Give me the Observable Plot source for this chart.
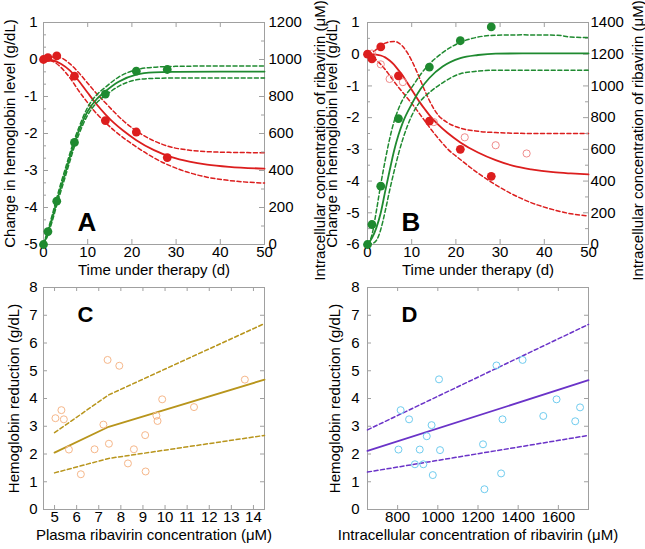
<!DOCTYPE html>
<html><head><meta charset="utf-8">
<script src="https://cdn.jsdelivr.net/npm/d3@7"></script>
<script src="https://cdn.jsdelivr.net/npm/@observablehq/plot@0.6"></script>
<style>
body{margin:0;background:#fff;}
#chart{position:relative;width:645px;height:549px;overflow:hidden;background:#fff;}
#chart .panel{position:absolute;}
#chart svg{position:absolute;left:0;top:0;overflow:visible;max-width:none !important;}
</style></head><body><div id="chart"></div><script>
// ---------- Panel A ----------
const obsTimeA = [0, 1, 3, 7, 14, 21, 28];
const hbObsA = [0, 0.05, 0.1, -0.45, -1.65, -1.96, -2.65];
const concObsA = [0, 70, 234, 552, 813, 937, 946];
const fitTimeA = [0, 2, 4, 6, 8, 10, 12, 14, 16, 18, 21, 25, 29, 33, 37, 42, 50];
const hbFitA = [0, -0.02, -0.12, -0.30, -0.58, -0.90, -1.21, -1.48, -1.72, -1.92, -2.18, -2.45, -2.64, -2.76, -2.84, -2.90, -2.95];
const hbHiA = [0.03, 0.07, 0.04, -0.12, -0.36, -0.64, -0.92, -1.17, -1.42, -1.65, -1.93, -2.20, -2.37, -2.45, -2.49, -2.51, -2.52];
const hbLoA = [-0.02, -0.05, -0.22, -0.50, -0.85, -1.17, -1.46, -1.70, -1.92, -2.11, -2.36, -2.66, -2.89, -3.06, -3.18, -3.27, -3.34];
const concTimeA = [0, 1, 2, 3, 4, 5, 6, 7, 8, 10, 12, 14, 17, 21, 25, 30, 40, 50];
const concFitA = [0, 65, 145, 232, 315, 393, 475, 550, 615, 720, 785, 828, 880, 918, 930, 933, 935, 935];
const concHiA = [3, 78, 162, 252, 337, 415, 495, 568, 632, 742, 808, 850, 905, 945, 958, 963, 965, 965];
const concLoA = [0, 52, 128, 212, 293, 372, 452, 530, 595, 700, 765, 805, 855, 890, 898, 900, 900, 900];

// ---------- Panel B ----------
const obsTimeB = [0, 1, 3, 7, 14, 21, 28];
const hbObsB = [0, -0.15, 0.23, -0.68, -2.11, -3.0, -3.85];
const openTimeB = [1, 3, 5, 8, 15, 22, 29, 36];
const hbOpenB = [0.02, -0.32, -0.78, -0.88, -2.14, -2.62, -2.87, -3.13];
const concObsB = [0, 126, 368, 794, 1119, 1285, 1372];
const fitTimeB = [0, 1, 2, 3, 4, 5, 6, 7, 8, 9, 10, 11, 12, 13, 14, 15, 16, 18, 21, 25, 29, 33, 37, 42, 46, 50];
const hbFitB = [0, 0, -0.01, -0.04, -0.10, -0.20, -0.33, -0.50, -0.68, -0.90, -1.12, -1.34, -1.55, -1.74, -1.92, -2.08, -2.22, -2.47, -2.78, -3.10, -3.34, -3.52, -3.63, -3.72, -3.76, -3.79];
const hbHiB = [0, 0.05, 0.15, 0.27, 0.35, 0.39, 0.40, 0.36, 0.24, 0.05, -0.20, -0.50, -0.83, -1.16, -1.46, -1.72, -1.92, -2.15, -2.33, -2.43, -2.47, -2.49, -2.50, -2.50, -2.50, -2.50];
const hbLoB = [0, -0.05, -0.18, -0.32, -0.48, -0.67, -0.86, -1.04, -1.21, -1.38, -1.55, -1.73, -1.92, -2.11, -2.30, -2.48, -2.65, -2.97, -3.32, -3.75, -4.12, -4.43, -4.68, -4.90, -5.03, -5.10];
const concTimeB = [0, 1, 2, 3, 4, 5, 6, 7, 8, 10, 12, 14, 17, 21, 25, 29, 35, 43, 46, 50];
const concFitB = [0, 40, 105, 200, 335, 465, 590, 690, 770, 885, 980, 1050, 1122, 1175, 1195, 1204, 1205, 1205, 1205, 1205];
const concHiB = [0, 60, 210, 380, 530, 665, 775, 855, 915, 990, 1072, 1138, 1210, 1275, 1308, 1320, 1322, 1320, 1308, 1305];
const concLoB = [0, 5, 25, 95, 210, 340, 460, 570, 665, 812, 905, 958, 1020, 1077, 1093, 1099, 1099, 1099, 1099, 1099];

// ---------- Panel C ----------
const plasmaC = [5.04, 5.31, 5.42, 5.65, 6.19, 6.81, 7.21, 7.40, 7.46, 7.93, 8.32, 8.59, 9.10, 9.12, 9.61, 9.66, 9.87, 11.31, 13.61];
const hbRedC = [3.29, 3.58, 3.25, 2.16, 1.27, 2.17, 3.06, 5.39, 2.37, 5.18, 1.66, 2.17, 2.68, 1.37, 3.38, 3.19, 3.97, 3.69, 4.68];
const lineXC = [5, 7.45, 14.5];
const fitC = [2.05, 2.98, 4.68];
const hiC = [2.77, 4.13, 6.70];
const loC = [1.32, 1.84, 2.67];

// ---------- Panel D ----------
const intraD = [804, 815, 857, 886, 910, 928, 945, 969, 975, 1006, 1011, 1225, 1232, 1292, 1315, 1322, 1422, 1525, 1591, 1684, 1708];
const hbRedD = [2.16, 3.58, 3.25, 1.63, 2.16, 1.63, 2.64, 3.04, 1.24, 4.69, 2.14, 2.35, 0.73, 5.19, 1.30, 3.25, 5.39, 3.37, 3.97, 3.18, 3.68];
const lineXD = [650, 1750];
const fitD = [2.11, 4.66];
const hiD = [2.87, 6.67];
const loD = [1.35, 2.67];

// ---------- tick labels ----------
const ticksTime = [0, 10, 20, 30, 40, 50];
const ticksHbA = [-5, -4, -3, -2, -1, 0, 1];
const ticksHbB = [-6, -5, -4, -3, -2, -1, 0, 1];
const ticksConcA = [0, 200, 400, 600, 800, 1000, 1200];
const ticksConcB = [0, 200, 400, 600, 800, 1000, 1200, 1400];
const ticksRed = [0, 1, 2, 3, 4, 5, 6, 7, 8];
const ticksPlasma = [5, 6, 7, 8, 9, 10, 11, 12, 13, 14];
const ticksIntra = [800, 1000, 1200, 1400, 1600];

const yLabelHb = "Change in hemoglobin level (g/dL)";
const yLabelConc = "Intracellular concentration of ribavirin (\u03BCM)";
const xLabelTime = "Time under therapy (d)";
const yLabelRed = "Hemoglobin reduction (g/dL)";
const xLabelPlasma = "Plasma ribavirin concentration (\u03BCM)";
const xLabelIntra = "Intracellular concentration of ribavirin (\u03BCM)";

// ---------- styles ----------
const FONT = '"Liberation Sans", Arial, Helvetica, sans-serif';
const GRAY = "#a0a0a0";
const RED = "#dc1e1e", RED_OPEN = "#f08c8c", GREEN = "#1f8a30", GOLD = "#b8951c", ORANGE = "#f6b78a", CYAN = "#70ccef", PURPLE = "#6a33c8";
const DASH = "4,2.6";
const fmt = d => String(d);
const tbl = (xs, ys) => xs.map((x, i) => ({x, y: ys[i]}));
const svgStyle = {background: "transparent", overflow: "visible", maxWidth: "none", fontFamily: FONT, fontSize: "15px", color: "black"};

function place(svg, left, top, width, height) {
  const div = document.createElement("div");
  div.className = "panel";
  div.style.left = left + "px";
  div.style.top = top + "px";
  div.style.width = width + "px";
  div.style.height = height + "px";
  div.appendChild(svg);
  document.getElementById("chart").appendChild(div);
}

function xTicksMarks(vals, fh, len) {
  return [
    Plot.tickX(vals, {x: d => d, insetTop: fh - len, stroke: GRAY}),
    Plot.tickX(vals, {x: d => d, insetBottom: fh - len, stroke: GRAY})
  ];
}
function yTicksMarks(vals, fw, len, sides) {
  const m = [];
  if (sides.includes("left")) m.push(Plot.tickY(vals, {y: d => d, insetRight: fw - len, stroke: GRAY}));
  if (sides.includes("right")) m.push(Plot.tickY(vals, {y: d => d, insetLeft: fw - len, stroke: GRAY}));
  return m;
}
function lines3(xs, fit, hi, lo, color, curve) {
  return [
    Plot.line(tbl(xs, hi), {x: "x", y: "y", stroke: color, strokeWidth: 1.5, strokeDasharray: DASH, curve}),
    Plot.line(tbl(xs, lo), {x: "x", y: "y", stroke: color, strokeWidth: 1.5, strokeDasharray: DASH, curve}),
    Plot.line(tbl(xs, fit), {x: "x", y: "y", stroke: color, strokeWidth: 1.8, curve})
  ];
}
function vTitle(label, anchor, dx, dy) {
  return Plot.text([label], {text: d => d, frameAnchor: anchor, rotate: -90, dx, dy, textAnchor: "middle", lineAnchor: "bottom", fontSize: 15});
}

// ---------- time-course panels (A, B) ----------
function timePanel(cfg) {
  const {left, top, width, height, mL, mR, mT, mB, yDomain, yTicks, yMinor, cDomain, cTicks, cMinor,
    red, green, openRed, letter, leftDx, rightDx, padL, padR} = cfg;
  const fw = width - mL - mR, fh = height - mT - mB;
  const base = Plot.plot({
    width, height, marginLeft: mL, marginRight: mR, marginTop: mT, marginBottom: mB,
    style: svgStyle,
    x: {domain: [0, 50]},
    y: {domain: yDomain},
    marks: [
      Plot.frame({stroke: GRAY}),
      ...xTicksMarks(ticksTime, fh, 5),
      ...yTicksMarks(yTicks, fw, 5, ["left"]),
      ...yTicksMarks(yMinor, fw, 3, ["left"]),
      Plot.axisX({ticks: ticksTime, tickSize: 0, tickPadding: 2, tickFormat: fmt, label: null, fontSize: 15}),
      Plot.axisY({anchor: "left", ticks: yTicks, tickSize: 0, tickPadding: padL, tickFormat: fmt, label: null, fontSize: 15}),
      ...lines3(red.t, red.fit, red.hi, red.lo, RED, "monotone-x"),
      ...(openRed ? [Plot.dot(tbl(openRed.t, openRed.v), {x: "x", y: "y", r: 3.6, stroke: RED_OPEN, strokeWidth: 1, fill: "none"})] : []),
      Plot.dot(tbl(red.obsT, red.obs), {x: "x", y: "y", r: 4.4, fill: RED}),
      Plot.text([xLabelTime], {text: d => d, frameAnchor: "bottom", dy: 30, textAnchor: "middle", lineAnchor: "bottom", fontSize: 15}),
      vTitle(yLabelHb, "left", leftDx, 0),
      Plot.text([letter], {text: d => d, frameAnchor: "bottom-left", dx: 34, dy: -14, textAnchor: "start", lineAnchor: "bottom", fontSize: 26, fontWeight: "bold"})
    ]
  });
  const over = Plot.plot({
    width, height, marginLeft: mL, marginRight: mR, marginTop: mT, marginBottom: mB,
    style: svgStyle,
    x: {domain: [0, 50], axis: null},
    y: {domain: cDomain},
    marks: [
      ...yTicksMarks(cTicks, fw, 5, ["right"]),
      ...yTicksMarks(cMinor, fw, 3, ["right"]),
      Plot.axisY({anchor: "right", ticks: cTicks, tickSize: 0, tickPadding: padR, tickFormat: fmt, label: null, fontSize: 15}),
      ...lines3(green.t, green.fit, green.hi, green.lo, GREEN, "monotone-x"),
      Plot.dot(tbl(green.obsT, green.obs), {x: "x", y: "y", r: 4.4, fill: GREEN}),
      vTitle(yLabelConc, "right", rightDx, 7)
    ]
  });
  place(base, left, top, width, height);
  place(over, left, top, width, height);
}

// ---------- scatter panels (C, D) ----------
function scatterPanel(cfg) {
  const {left, top, width, height, mL, mR, mT, mB, xDomain, xTicks, xs, ys, ptColor, lx, fit, hi, lo, lineColor, xLabel, letter, leftDx, padL} = cfg;
  const fw = width - mL - mR, fh = height - mT - mB;
  const svg = Plot.plot({
    width, height, marginLeft: mL, marginRight: mR, marginTop: mT, marginBottom: mB,
    style: svgStyle,
    x: {domain: xDomain},
    y: {domain: [0, 8]},
    marks: [
      Plot.frame({stroke: GRAY}),
      ...xTicksMarks(xTicks, fh, 4),
      ...yTicksMarks(ticksRed, fw, 4, ["left", "right"]),
      Plot.axisX({ticks: xTicks, tickSize: 0, tickPadding: 2, tickFormat: fmt, label: null, fontSize: 15}),
      Plot.axisY({anchor: "left", ticks: ticksRed, tickSize: 0, tickPadding: padL, tickFormat: fmt, label: null, fontSize: 15}),
      ...lines3(lx, fit, hi, lo, lineColor, "linear"),
      Plot.dot(tbl(xs, ys), {x: "x", y: "y", r: 3.5, stroke: ptColor, strokeWidth: 1, fill: "none"}),
      Plot.text([xLabel], {text: d => d, frameAnchor: "bottom", dy: 30, textAnchor: "middle", lineAnchor: "bottom", fontSize: 15}),
      vTitle(yLabelRed, "left", leftDx, 0),
      Plot.text([letter], {text: d => d, frameAnchor: "top-left", dx: 34, dy: 19, textAnchor: "start", lineAnchor: "top", fontSize: 22, fontWeight: "bold"})
    ]
  });
  place(svg, left, top, width, height);
}

const thirds = (a, b) => d3.range(a, b, 1).flatMap(v => [v + 1/3, v + 2/3]);

timePanel({
  left: 0, top: 0, width: 330, height: 280, mL: 43, mR: 66, mT: 22, mB: 36,
  yDomain: [-5, 1], yTicks: ticksHbA, yMinor: thirds(-5, 1),
  cDomain: [0, 1200], cTicks: ticksConcA, cMinor: d3.range(100, 1200, 200),
  red: {t: fitTimeA, fit: hbFitA, hi: hbHiA, lo: hbLoA, obsT: obsTimeA, obs: hbObsA},
  green: {t: concTimeA, fit: concFitA, hi: concHiA, lo: concLoA, obsT: obsTimeA, obs: concObsA},
  openRed: null, letter: "A", leftDx: -29, rightDx: 60, padL: 6, padR: 4
});
timePanel({
  left: 320, top: 0, width: 325, height: 280, mL: 47, mR: 57, mT: 22, mB: 36,
  yDomain: [-6, 1], yTicks: ticksHbB, yMinor: d3.range(-5.5, 1, 1),
  cDomain: [0, 1400], cTicks: ticksConcB, cMinor: d3.range(100, 1400, 200),
  red: {t: fitTimeB, fit: hbFitB, hi: hbHiB, lo: hbLoB, obsT: obsTimeB, obs: hbObsB},
  green: {t: concTimeB, fit: concFitB, hi: concHiB, lo: concLoB, obsT: obsTimeB, obs: concObsB},
  openRed: {t: openTimeB, v: hbOpenB}, letter: "B", leftDx: -31, rightDx: 54, padL: 8, padR: 2
});
scatterPanel({
  left: 0, top: 270, width: 330, height: 279, mL: 43, mR: 66, mT: 17, mB: 40,
  xDomain: [4.5, 14.5], xTicks: ticksPlasma, xs: plasmaC, ys: hbRedC, ptColor: ORANGE,
  lx: lineXC, fit: fitC, hi: hiC, lo: loC, lineColor: GOLD, xLabel: xLabelPlasma, letter: "C", leftDx: -25, padL: 6
});
scatterPanel({
  left: 320, top: 270, width: 325, height: 279, mL: 47, mR: 57, mT: 17, mB: 40,
  xDomain: [650, 1750], xTicks: ticksIntra, xs: intraD, ys: hbRedD, ptColor: CYAN,
  lx: lineXD, fit: fitD, hi: hiD, lo: loD, lineColor: PURPLE, xLabel: xLabelIntra, letter: "D", leftDx: -28, padL: 8
});
</script></body></html>
